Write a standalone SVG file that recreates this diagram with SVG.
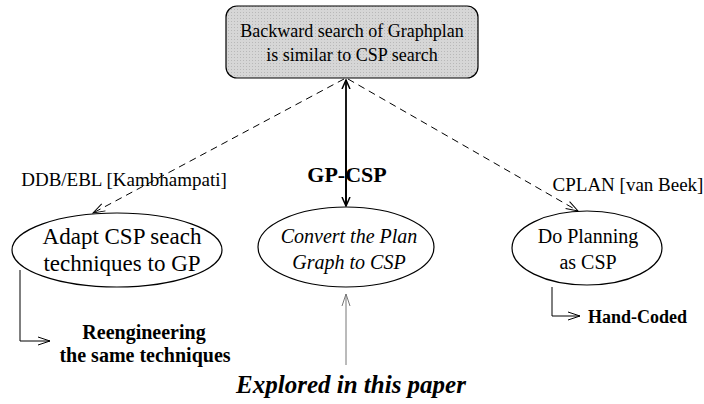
<svg xmlns="http://www.w3.org/2000/svg" width="704" height="404" viewBox="0 0 704 404">
<defs>
<style>
.t{font-family:"Liberation Serif","Times New Roman",serif;fill:#000}
.n{fill:#fff;stroke:#000;stroke-width:1.2}
.c{fill:none;stroke:#000;stroke-width:1}
.d{fill:none;stroke:#000;stroke-width:1;stroke-dasharray:7,5}
</style>
<pattern id="hatch" width="3" height="3" patternUnits="userSpaceOnUse">
<rect width="3" height="3" fill="#d6d6d6"/>
<rect width="1" height="1" fill="#b8b8b8"/>
</pattern>
<marker id="open" markerWidth="14" markerHeight="10" refX="13" refY="5" orient="auto" markerUnits="userSpaceOnUse">
<path d="M1,1 L13,5 L1,9" fill="none" stroke="#000" stroke-width="1"/>
</marker>
<marker id="solid" markerWidth="10" markerHeight="12" refX="9" refY="5" orient="auto" markerUnits="userSpaceOnUse">
<path d="M0,1 L9,5 L0,9" fill="none" stroke="#000" stroke-width="1.5"/>
</marker>
<marker id="grey" markerWidth="14" markerHeight="10" refX="13" refY="5" orient="auto" markerUnits="userSpaceOnUse">
<path d="M1,1 L13,5 L1,9" fill="none" stroke="#777" stroke-width="1"/>
</marker>
</defs>
<rect width="704" height="404" fill="#fff"/>
<g id="connectors">
<line x1="346" y1="205" x2="346" y2="80" class="c" style="stroke-width:1.8" marker-end="url(#solid)"/>
<line x1="346" y1="150" x2="346" y2="206" class="c" style="stroke-width:1.8" marker-end="url(#solid)"/>
<line x1="344" y1="79" x2="93" y2="213" class="d" marker-end="url(#open)"/>
<line x1="348" y1="79" x2="578" y2="211" class="d" marker-end="url(#open)"/>
<polyline points="20,270 20,341 50,341" class="c" marker-end="url(#open)"/>
<polyline points="552,287 552,316 580,316" class="c" marker-end="url(#open)"/>
<line x1="346" y1="365" x2="346" y2="294" fill="none" stroke="#777" stroke-width="1" marker-end="url(#grey)"/>
</g>
<g id="top">
<rect x="226" y="6" width="252" height="72" rx="11" ry="11" fill="url(#hatch)" stroke="#000" stroke-width="1.2"/>
<text class="t" x="352" y="37" font-size="18" text-anchor="middle">Backward search of Graphplan</text>
<text class="t" x="352" y="61" font-size="18" text-anchor="middle">is similar to CSP search</text>
</g>
<g id="adapt">
<ellipse cx="117" cy="250" rx="105" ry="37" class="n"/>
<text class="t" x="122" y="244" font-size="23" text-anchor="middle">Adapt CSP seach</text>
<text class="t" x="122" y="271" font-size="23" text-anchor="middle">techniques to GP</text>
</g>
<g id="convert">
<ellipse cx="346" cy="247" rx="88" ry="40" class="n"/>
<text class="t" x="349" y="243" font-size="20" font-style="italic" text-anchor="middle">Convert the Plan</text>
<text class="t" x="349" y="269" font-size="20" font-style="italic" text-anchor="middle">Graph to CSP</text>
</g>
<g id="doplan">
<ellipse cx="587" cy="248" rx="75" ry="37" class="n"/>
<text class="t" x="588" y="243" font-size="20" text-anchor="middle">Do Planning</text>
<text class="t" x="588" y="269" font-size="20" text-anchor="middle">as CSP</text>
</g>
<g id="labels">
<text class="t" x="124" y="186" font-size="19" text-anchor="middle">DDB/EBL [Kambhampati]</text>
<text class="t" x="628" y="191" font-size="19" text-anchor="middle">CPLAN [van Beek]</text>
<text class="t" x="347" y="182" font-size="22" font-weight="bold" text-anchor="middle">GP-CSP</text>
<text class="t" x="144" y="339" font-size="20" font-weight="bold" text-anchor="middle">Reengineering</text>
<text class="t" x="145" y="362" font-size="20" font-weight="bold" text-anchor="middle">the same techniques</text>
<text class="t" x="588" y="323" font-size="18" font-weight="bold">Hand-Coded</text>
<text class="t" x="351" y="393" font-size="25" font-weight="bold" font-style="italic" text-anchor="middle">Explored in this paper</text>
</g>
</svg>
